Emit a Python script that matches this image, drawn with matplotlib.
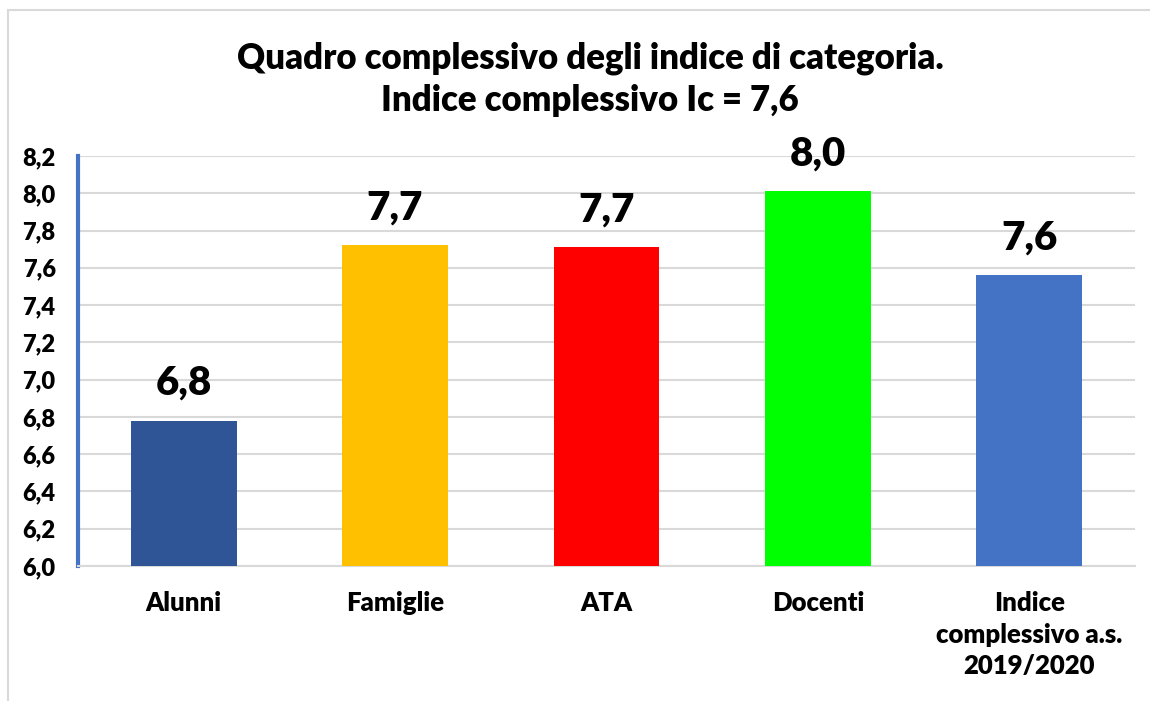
import matplotlib
matplotlib.use('Agg')
from matplotlib import pyplot as plt
from matplotlib.patches import Rectangle

# Data
categories = ['Alunni', 'Famiglie', 'ATA', 'Docenti',
              'Indice\ncomplessivo a.s.\n2019/2020']
values = [6.78, 7.72, 7.71, 8.01, 7.56]
value_labels = ['6,8', '7,7', '7,7', '8,0', '7,6']
colors = ['#2F5597', '#FFC000', '#FF0000', '#00FF00', '#4472C4']
y_ticks = [6.0, 6.2, 6.4, 6.6, 6.8, 7.0, 7.2, 7.4, 7.6, 7.8, 8.0, 8.2]
y_tick_labels = ['6,0', '6,2', '6,4', '6,6', '6,8', '7,0',
                 '7,2', '7,4', '7,6', '7,8', '8,0', '8,2']

plt.rcParams['font.family'] = ['Lato', 'DejaVu Sans']
W = 800

fig = plt.figure(figsize=(11.5, 7.01), dpi=100)
ax = fig.add_axes([0.0678, 0.1926, 0.9191, 0.5849])

# Outer chart border (top and left visible)
fig.add_artist(Rectangle((0.007, -0.05), 1.1, 1.036, transform=fig.transFigure,
                         fill=False, edgecolor='#D9D9D9', linewidth=1.5))

x = range(len(categories))
bars = ax.bar(x, [v - 6.0 for v in values], bottom=6.0, width=0.5,
              color=colors, zorder=3)

for xi, v, lab in zip(x, values, value_labels):
    ax.text(xi, v + 0.1, lab, ha='center', va='bottom',
            fontsize=29, fontweight=W, color='black')

ax.set_xlim(-0.5, len(categories) - 0.5)
ax.set_ylim(6.0, 8.2)
ax.set_yticks(y_ticks)
ax.set_yticklabels(y_tick_labels, fontsize=17, fontweight=W)
ax.set_xticks(list(x))
ax.set_xticklabels(categories, fontsize=18.5, fontweight=W,
                   va='top', linespacing=1.38)
ax.tick_params(axis='both', length=0)
ax.tick_params(axis='x', pad=18)
ax.tick_params(axis='y', pad=16)

ax.yaxis.grid(True, color='#D9D9D9', linewidth=1.5, zorder=0)
ax.set_axisbelow(True)
for side in ['top', 'right']:
    ax.spines[side].set_visible(False)
ax.spines['bottom'].set_color('#D9D9D9')
ax.spines['bottom'].set_linewidth(1.5)
ax.spines['left'].set_color('#4472C4')
ax.spines['left'].set_linewidth(3)

fig.text(0.513, 0.887, 'Quadro complessivo degli indice di categoria.\n'
         'Indice complessivo Ic = 7,6', ha='center', va='center',
         fontsize=25, fontweight=W, linespacing=1.35)

fig.savefig('out.png', dpi=100)
